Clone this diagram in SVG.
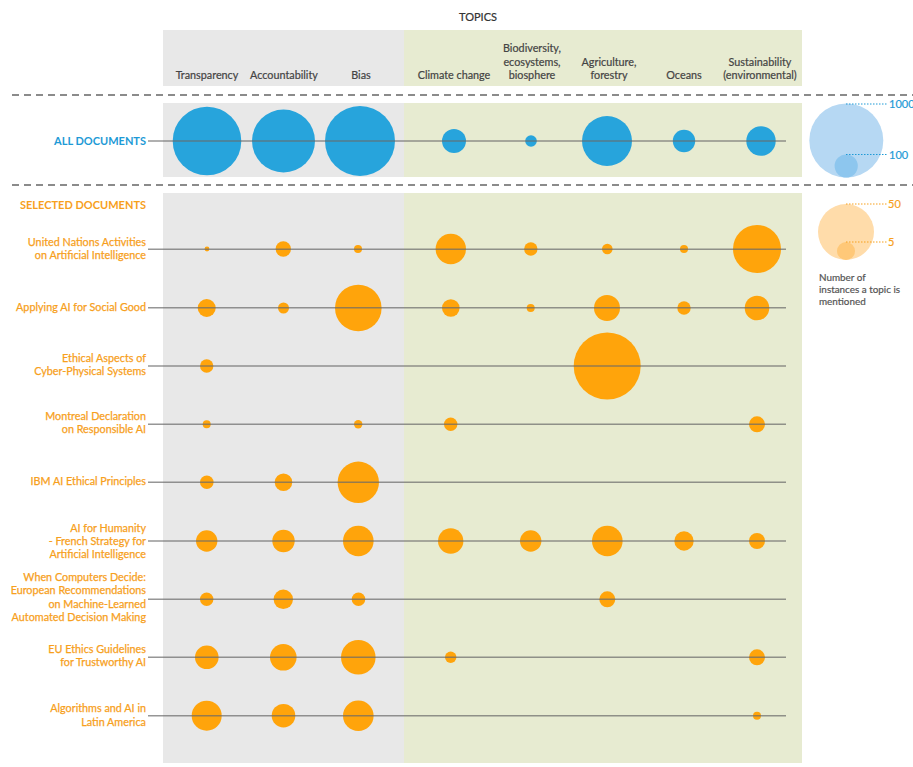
<svg xmlns="http://www.w3.org/2000/svg" width="913" height="767" viewBox="0 0 913 767">
<style>
text{font-family:Lato,"Open Sans","Liberation Sans",sans-serif}
.hd{font-size:10.8px;fill:#444;stroke:#444;stroke-width:0.2;text-anchor:middle}
.lb{font-size:10.8px;fill:#f7a01c;stroke:#f7a01c;stroke-width:0.25;text-anchor:end}
.ttl{font-size:11px;font-weight:bold;text-anchor:end}
.gp{fill:#e8e8e8}
.gr{fill:#e7ebd1}
.b{fill:#27a4dc}
.o{fill:#ffa40b}
.dash{stroke:#666;stroke-width:1.3;stroke-dasharray:7 5;fill:none}
.row{stroke:#6a6a6a;stroke-width:1.4;stroke-opacity:0.7;fill:none}
.dot{stroke-width:1;stroke-dasharray:1.5 1.5;fill:none}
.lg{font-size:9.9px;fill:#555;stroke:#555;stroke-width:0.2}
</style>
<rect width="913" height="767" fill="#fff"/>
<g id="header">
<text x="478" y="21" style="font-size:11px;fill:#333;stroke:#333;stroke-width:0.2;text-anchor:middle">TOPICS</text>
<rect class="gp" x="163" y="30" width="241" height="56"/>
<rect class="gr" x="404" y="30" width="398" height="56"/>
<text class="hd" x="207" y="79">Transparency</text>
<text class="hd" x="284" y="79">Accountability</text>
<text class="hd" x="361" y="79">Bias</text>
<text class="hd" x="454" y="79">Climate change</text>
<text class="hd" x="532" y="52">Biodiversity,</text>
<text class="hd" x="532" y="65.5">ecosystems,</text>
<text class="hd" x="532" y="79">biosphere</text>
<text class="hd" x="609" y="65.5">Agriculture,</text>
<text class="hd" x="609" y="79">forestry</text>
<text class="hd" x="684" y="79">Oceans</text>
<text class="hd" x="760" y="65.5">Sustainability</text>
<text class="hd" x="760" y="79">(environmental)</text>
</g>
<line class="dash" x1="12" y1="95" x2="913" y2="95"/>
<line class="dash" x1="12" y1="185" x2="913" y2="185"/>
<g id="panels">
<rect class="gp" x="163" y="103" width="241" height="74"/>
<rect class="gr" x="404" y="103" width="398" height="74"/>
<rect class="gp" x="163" y="193" width="241" height="570"/>
<rect class="gr" x="404" y="193" width="398" height="570"/>
</g>
<g id="all-documents">
<text class="ttl" x="146" y="145" fill="#1e9ad6">ALL DOCUMENTS</text>
<circle class="b" cx="207" cy="141" r="34.3"/>
<circle class="b" cx="283.5" cy="141" r="31.5"/>
<circle class="b" cx="360" cy="141" r="35"/>
<circle class="b" cx="454" cy="141" r="12"/>
<circle class="b" cx="531" cy="141" r="5.8"/>
<circle class="b" cx="607" cy="141" r="25"/>
<circle class="b" cx="684" cy="141" r="11.2"/>
<circle class="b" cx="761" cy="141" r="14.7"/>
</g>
<g id="legend-all">
<circle cx="846.3" cy="140.5" r="37" fill="#b6d8f3"/>
<circle cx="846.2" cy="166" r="11.6" fill="#8dc6ee"/>
<line class="dot" x1="846" y1="104" x2="887" y2="104" stroke="#1e9ad6"/>
<line class="dot" x1="846" y1="154.5" x2="887" y2="154.5" stroke="#1e9ad6"/>
<text x="889" y="108" style="font-size:11px;fill:#1e9ad6;stroke:#1e9ad6;stroke-width:0.2">1000</text>
<text x="889" y="158.5" style="font-size:11px;fill:#1e9ad6;stroke:#1e9ad6;stroke-width:0.2">100</text>
</g>
<text class="ttl" x="146" y="209" fill="#f7a01c">SELECTED DOCUMENTS</text>
<g id="legend-selected">
<circle cx="846" cy="232" r="28" fill="#ffdcaa"/>
<circle cx="846" cy="251" r="9" fill="#ffc878"/>
<line class="dot" x1="846" y1="204" x2="887" y2="204" stroke="#f7a01c"/>
<line class="dot" x1="846" y1="242" x2="887" y2="242" stroke="#f7a01c"/>
<text x="888" y="208" style="font-size:11px;fill:#f7a01c;stroke:#f7a01c;stroke-width:0.2">50</text>
<text x="888" y="246" style="font-size:11px;fill:#f7a01c;stroke:#f7a01c;stroke-width:0.2">5</text>
<text class="lg" x="819" y="281">Number of</text>
<text class="lg" x="819" y="293">instances a topic is</text>
<text class="lg" x="819" y="305">mentioned</text>
</g>
<g id="doc-un">
<text class="lb" x="146" y="245.5">United Nations Activities</text>
<text class="lb" x="146" y="259">on Artificial Intelligence</text>
<circle class="o" cx="207" cy="249" r="2.4"/>
<circle class="o" cx="283.3" cy="249" r="7.7"/>
<circle class="o" cx="358" cy="249" r="4"/>
<circle class="o" cx="450.8" cy="249" r="15.2"/>
<circle class="o" cx="530.8" cy="249" r="6.7"/>
<circle class="o" cx="607.3" cy="249" r="5.3"/>
<circle class="o" cx="684" cy="249" r="4"/>
<circle class="o" cx="757" cy="249" r="24"/>
</g>
<g id="doc-social-good">
<text class="lb" x="146" y="311">Applying AI for Social Good</text>
<circle class="o" cx="206.7" cy="308" r="9"/>
<circle class="o" cx="283.5" cy="308" r="5.5"/>
<circle class="o" cx="358.3" cy="308" r="23.3"/>
<circle class="o" cx="450.8" cy="308" r="8.8"/>
<circle class="o" cx="530.7" cy="308" r="4"/>
<circle class="o" cx="607" cy="308" r="13"/>
<circle class="o" cx="684" cy="308" r="6.7"/>
<circle class="o" cx="757" cy="308" r="12.3"/>
</g>
<g id="doc-cyber-physical">
<text class="lb" x="146" y="361.5">Ethical Aspects of</text>
<text class="lb" x="146" y="374.5">Cyber-Physical Systems</text>
<circle class="o" cx="206.7" cy="366" r="6.7"/>
<circle class="o" cx="607.2" cy="366" r="33.5"/>
</g>
<g id="doc-montreal">
<text class="lb" x="146" y="419.5">Montreal Declaration</text>
<text class="lb" x="146" y="433">on Responsible AI</text>
<circle class="o" cx="206.7" cy="424.3" r="4"/>
<circle class="o" cx="358.2" cy="424.3" r="4.2"/>
<circle class="o" cx="450.7" cy="424.3" r="6.7"/>
<circle class="o" cx="757" cy="424.3" r="8"/>
</g>
<g id="doc-ibm">
<text class="lb" x="146" y="485">IBM AI Ethical Principles</text>
<circle class="o" cx="206.8" cy="482.3" r="6.8"/>
<circle class="o" cx="283.5" cy="482.3" r="8.8"/>
<circle class="o" cx="358.3" cy="482.3" r="20.7"/>
</g>
<g id="doc-french-strategy">
<text class="lb" x="146" y="531.5">AI for Humanity</text>
<text class="lb" x="146" y="545">- French Strategy for</text>
<text class="lb" x="146" y="558.3">Artificial Intelligence</text>
<circle class="o" cx="206.7" cy="541" r="10.7"/>
<circle class="o" cx="283.5" cy="541" r="11.2"/>
<circle class="o" cx="358.3" cy="541" r="15.3"/>
<circle class="o" cx="450.7" cy="541" r="12.7"/>
<circle class="o" cx="530.7" cy="541" r="10.7"/>
<circle class="o" cx="607.3" cy="541" r="15.3"/>
<circle class="o" cx="684" cy="541" r="9.7"/>
<circle class="o" cx="757" cy="541" r="8"/>
</g>
<g id="doc-computers-decide">
<text class="lb" x="146" y="580.5">When Computers Decide:</text>
<text class="lb" x="146" y="594">European Recommendations</text>
<text class="lb" x="146" y="607.5">on Machine-Learned</text>
<text class="lb" x="146" y="621">Automated Decision Making</text>
<circle class="o" cx="206.7" cy="599.3" r="6.7"/>
<circle class="o" cx="283.3" cy="599.3" r="9.7"/>
<circle class="o" cx="358.5" cy="599.3" r="6.8"/>
<circle class="o" cx="607.3" cy="599.3" r="8"/>
</g>
<g id="doc-eu-ethics">
<text class="lb" x="146" y="653">EU Ethics Guidelines</text>
<text class="lb" x="146" y="666.3">for Trustworthy AI</text>
<circle class="o" cx="206.8" cy="657.3" r="11.8"/>
<circle class="o" cx="283.3" cy="657.3" r="13.3"/>
<circle class="o" cx="358.3" cy="657.3" r="17.3"/>
<circle class="o" cx="450.7" cy="657.3" r="5.7"/>
<circle class="o" cx="757" cy="657.3" r="8"/>
</g>
<g id="doc-latin-america">
<text class="lb" x="146" y="712">Algorithms and AI in</text>
<text class="lb" x="146" y="725.5">Latin America</text>
<circle class="o" cx="206.7" cy="715.7" r="15"/>
<circle class="o" cx="283.5" cy="715.7" r="11.8"/>
<circle class="o" cx="358.3" cy="715.7" r="15.3"/>
<circle class="o" cx="757" cy="715.7" r="4"/>
</g>
<g id="connectors">
<line class="row" x1="148" y1="141" x2="786" y2="141"/>
<line class="row" x1="148" y1="249.3" x2="786" y2="249.3"/>
<line class="row" x1="148" y1="307.7" x2="786" y2="307.7"/>
<line class="row" x1="148" y1="366" x2="786" y2="366"/>
<line class="row" x1="148" y1="424.3" x2="786" y2="424.3"/>
<line class="row" x1="148" y1="482.3" x2="786" y2="482.3"/>
<line class="row" x1="148" y1="541" x2="786" y2="541"/>
<line class="row" x1="148" y1="599.3" x2="786" y2="599.3"/>
<line class="row" x1="148" y1="657.3" x2="786" y2="657.3"/>
<line class="row" x1="148" y1="715.7" x2="786" y2="715.7"/>
</g>
</svg>
